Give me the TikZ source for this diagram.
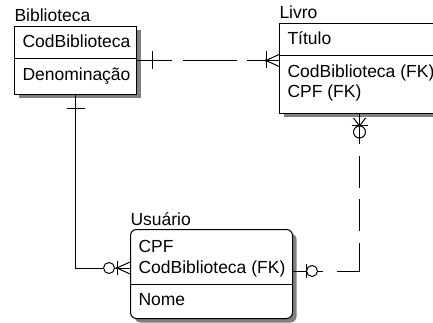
\documentclass[tikz,border=0pt]{standalone}
\usepackage{fontspec}
\setmainfont{Liberation Sans}
\usetikzlibrary{calc,shadows}
\definecolor{ershadow}{HTML}{808080}
\definecolor{erline}{HTML}{000000}
\newcommand{\etitle}[1]{#1}

\begin{document}
\begin{tikzpicture}[
  x=1pt,y=-1pt,
  font=\fontsize{17.5}{20}\selectfont,
  line width=1pt,
  entity/.style={draw=erline, fill=white, line width=1pt, inner sep=0pt, anchor=north west,
    drop shadow={shadow xshift=4pt, shadow yshift=-4pt, fill=ershadow, opacity=1}},
  attr/.style={anchor=base west, inner sep=0pt},
  rel/.style={draw=erline, line width=1pt},
  sym/.style={draw=erline, line width=1pt},
]
\useasboundingbox (0,0) rectangle (433,323);
\clip (0,0) rectangle (433,323);

% entities
\node[entity, minimum width=122pt, minimum height=68pt] (bib) at (14,26) {};
\node[entity, minimum width=160pt, minimum height=90pt] (liv) at (279,23) {};
\node[entity, minimum width=162pt, minimum height=89pt, rounded corners=6pt] (usu) at (130,229) {};

\draw[erline] ($(bib.north west)+(0,33)$) -- ($(bib.north east)+(0,33)$);
\draw[erline] ($(liv.north west)+(0,33)$) -- ($(liv.north east)+(0,33)$);
\draw[erline] ($(usu.north west)+(0,55)$) -- ($(usu.north east)+(0,55)$);

\node[attr] (bibt) at (14,22) {\etitle{Biblioteca}};
\node[attr] (bibcod) at (22,48) {CodBiblioteca};
\node[attr] (bibden) at (22,81) {Denominação};

\node[attr] (livt) at (279,19) {\etitle{Livro}};
\node[attr] (livtit) at (287,45) {Título};
\node[attr] (livcod) at (287,78) {CodBiblioteca (FK)};
\node[attr] (livcpf) at (287,98) {CPF (FK)};

\node[attr] (usut) at (130,225) {\etitle{Usuário}};
\node[attr] (usucpf) at (138,252) {CPF};
\node[attr] (usucod) at (138,273) {CodBiblioteca (FK)};
\node[attr] (usunom) at (138,305) {Nome};

% relationships
\coordinate (livL) at (bib.east -| liv.west);
\coordinate (usuL) at ($(usu.north west)+(0,39)$);
\coordinate (usuR) at ($(usu.north east)+(0,42)$);

\draw[rel, dash pattern=on 35pt off 11pt on 54pt off 10pt on 60pt] (bib.east) -- (livL);
\draw[rel] (bib.south) |- (usuL);
\draw[rel, dash pattern=on 30pt off 12pt on 32pt off 11pt on 32pt off 12pt on 51pt off 14pt on 40pt] (liv.south) |- (usuR);

% cardinality marks
\draw[sym] ($(bib.east)+(15,-9)$) -- ++(0,18);
\draw[sym] ($(livL)+(-13,-9)$) -- ++(0,17);
\draw[sym] ($(livL)+(0,-6)$) -- ($(livL)+(-13,0)$) -- ($(livL)+(0,6)$);
\fill[erline] ($(livL)+(-13,0)$) circle (1.5);

\draw[sym] ($(bib.south)+(-9,14)$) -- ++(18,0);
\draw[sym, fill=white] ($(usuL)+(-21,0)$) circle (5.5);
\draw[sym] ($(usuL)+(-13,-7)$) -- ++(0,14);
\draw[sym] ($(usuL)+(0,-6)$) -- ($(usuL)+(-13,0)$) -- ($(usuL)+(0,6)$);
\fill[erline] ($(usuL)+(-13,0)$) circle (1.5);

\draw[sym] ($(liv.south)+(-6,4)$) -- ($(liv.south)+(0,12)$) -- ($(liv.south)+(6,4)$);
\draw[sym] ($(liv.south)+(-8,12)$) -- ++(16,0);
\draw[sym] ($(liv.south)+(0,18)$) circle (6);

\draw[sym] ($(usuR)+(13,-7)$) -- ++(0,14);
\draw[sym, fill=white] ($(usuR)+(19,0)$) circle (5.5);
\end{tikzpicture}
\end{document}
